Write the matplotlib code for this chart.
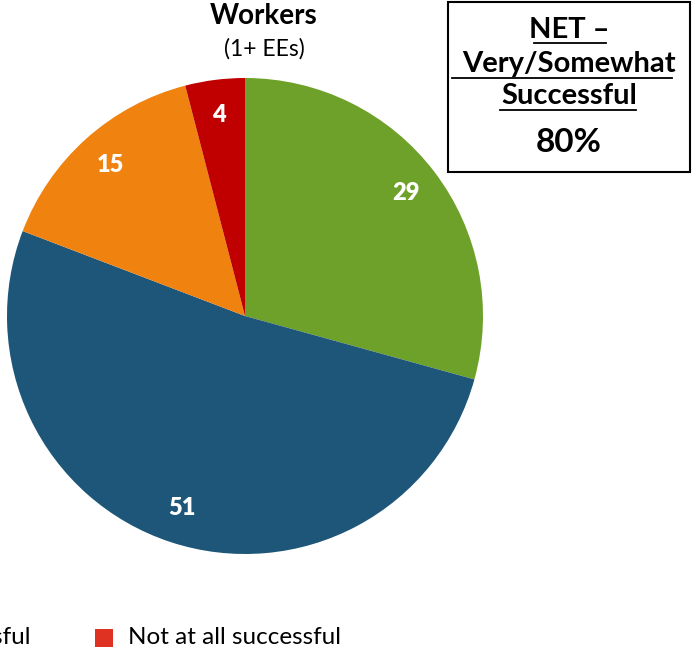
import matplotlib
matplotlib.use("Agg")
import matplotlib.pyplot as plt
from matplotlib.patches import Rectangle

plt.rcParams['font.family'] = ['Lato', 'DejaVu Sans']

categories = ["Very successful", "Somewhat successful", "Not too successful", "Not at all successful"]
values = [29, 51, 15, 4]
colors = ["#6EA12A", "#1E5679", "#F0820F", "#C00000"]
legend_colors = ["#6EA12A", "#1E5679", "#F0820F", "#E03222"]
title = "Workers"
subtitle = "(1+ EEs)"
net_lines = ["NET \u2013", "Very/Somewhat", "Successful"]
net_value = "80%"

W, H = 693, 651
fig = plt.figure(figsize=(W / 100, H / 100), dpi=100)

cx, cy, r = 245, 316, 238
ax = fig.add_axes([(cx - r) / W, (H - cy - r) / H, 2 * r / W, 2 * r / H])
total = sum(values)
wedges, texts, autotexts = ax.pie(
    values, colors=colors, startangle=90, counterclock=False,
    autopct=lambda p: f"{round(p * total / 100)}", pctdistance=0.85, radius=1,
    wedgeprops=dict(linewidth=0),
    textprops=dict(color="white", fontsize=17, fontweight="heavy"))
ax.set_xlim(-1, 1)
ax.set_ylim(-1, 1)
ax.set_aspect("equal")
ax.axis("off")

# Title
fig.text(264 / W, 1 - 16 / H, title, ha="center", va="center", fontsize=20, fontweight="bold")
fig.text(264 / W, 1 - 49 / H, subtitle, ha="center", va="center", fontsize=16.5)

# NET box
fig.patches.append(Rectangle((448 / W, 1 - 172 / H), 242 / W, 170 / H,
                             transform=fig.transFigure, fill=False,
                             edgecolor="black", linewidth=1.5))
bx = 569 / W
ys = [38, 72, 104]
for line, y in zip(net_lines, ys):
    fig.text(bx, 1 - y / H, line, ha="center", va="baseline", fontsize=21,
             fontweight="bold")
# underlines
ul = [(534, 606, 43), (452, 672, 78), (500, 636, 110)]
for x0, x1, y in ul:
    fig.add_artist(plt.Line2D([x0 / W, x1 / W], [1 - y / H, 1 - y / H],
                              transform=fig.transFigure, color="black", linewidth=1.3))
fig.text(bx, 1 - 152 / H, net_value, ha="center", va="baseline", fontsize=24,
         fontweight="bold")

# Legend (cropped, only last items visible)
ly = 638
fig.text(30 / W, 1 - ly / H, categories[2], ha="right", va="center", fontsize=17.5)
fig.patches.append(Rectangle((95 / W, 1 - 647 / H), 18 / W, 18 / H,
                             transform=fig.transFigure, facecolor=legend_colors[3],
                             edgecolor="none"))
fig.text(128 / W, 1 - ly / H, categories[3], ha="left", va="center", fontsize=17.5)

fig.savefig("out.png", dpi=100)
